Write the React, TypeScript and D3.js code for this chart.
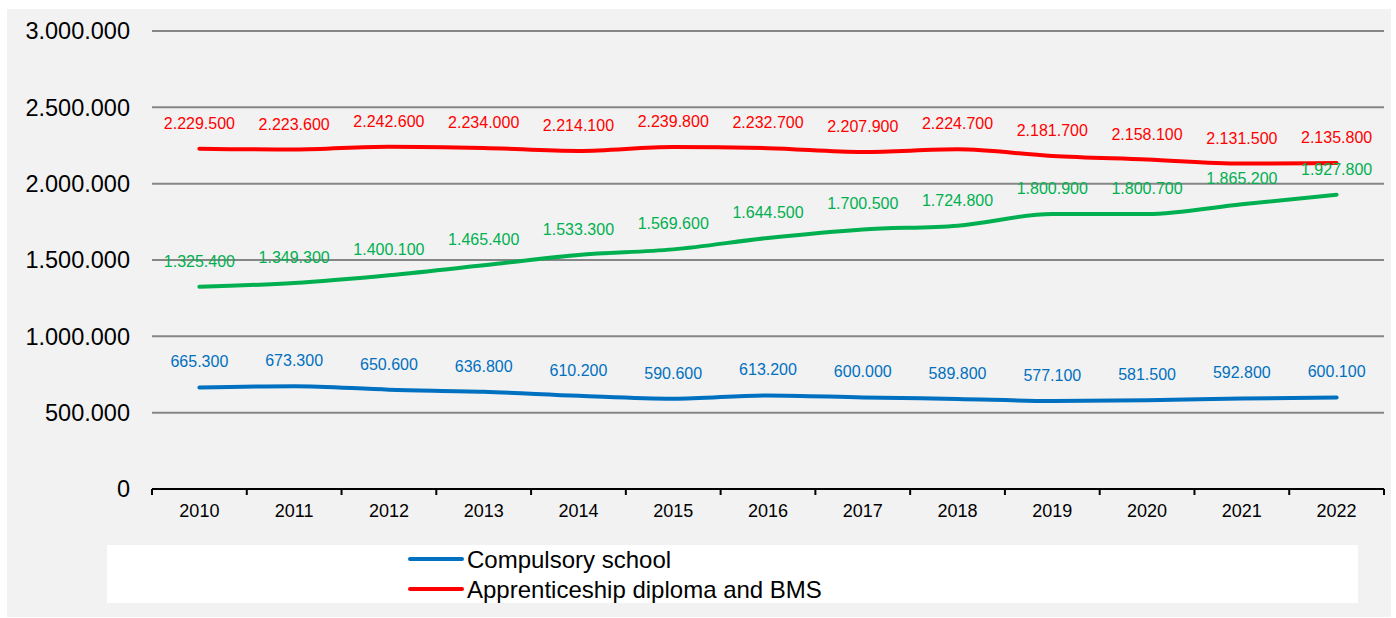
import React from "react";
import * as d3 from "d3";

const years = ["2010", "2011", "2012", "2013", "2014", "2015", "2016", "2017", "2018", "2019", "2020", "2021", "2022"];
const compulsory = [665300, 673300, 650600, 636800, 610200, 590600, 613200, 600000, 589800, 577100, 581500, 592800, 600100];
const apprenticeship = [2229500, 2223600, 2242600, 2234000, 2214100, 2239800, 2232700, 2207900, 2224700, 2181700, 2158100, 2131500, 2135800];
const tertiary = [1325400, 1349300, 1400100, 1465400, 1533300, 1569600, 1644500, 1700500, 1724800, 1800900, 1800700, 1865200, 1927800];
const yTicks = [0, 500000, 1000000, 1500000, 2000000, 2500000, 3000000];

const series = [
    { name: "Compulsory school", values: compulsory, color: "#0070c0", legend: true },
    { name: "Apprenticeship diploma and BMS", values: apprenticeship, color: "#ff0000", legend: true },
    { name: "Tertiary", values: tertiary, color: "#00b050", legend: false },
];

const locale = d3.formatLocale({ decimal: ",", thousands: ".", grouping: [3], currency: ["", ""] });
const fmt = locale.format(",d");

const W = 1396;
const H = 618;
const plot = { left: 152, right: 1384, top: 31, bottom: 489 };
const font = "Arial, 'Liberation Sans', sans-serif";

export default function App() {
    const x = d3.scaleBand<string>().domain(years).range([plot.left, plot.right]);
    const y = d3.scaleLinear().domain([0, 3000000]).range([plot.bottom, plot.top]);
    const cx = (i: number) => (x(years[i]) as number) + x.bandwidth() / 2;

    const line = d3
        .line<number>()
        .x((d, i) => cx(i))
        .y((d) => y(d))
        .curve(d3.curveMonotoneX);

    const boundaries = years.map((yr) => x(yr) as number).concat([plot.right]);
    const legendItems = series.filter((s) => s.legend);

    return (
        <div style={{ position: "absolute", left: 0, top: 0 }}>
            <svg width={W} height={H} style={{ display: "block" }} fontFamily={font}>
                <rect x={0} y={0} width={W} height={H} fill="#ffffff" />
                <rect x={7} y={9} width={1384} height={608} fill="#f2f2f2" />

                {/* gridlines + y labels */}
                {yTicks.map((t) => (
                    <g key={t}>
                        {t > 0 && (
                            <line x1={plot.left} x2={plot.right} y1={y(t)} y2={y(t)} stroke="#868686" strokeWidth={2} />
                        )}
                        <text x={130} y={y(t)} dy="0.36em" textAnchor="end" fontSize={23.5} fill="#000">
                            {fmt(t)}
                        </text>
                    </g>
                ))}

                {/* x axis */}
                <line x1={plot.left} x2={plot.right} y1={plot.bottom} y2={plot.bottom} stroke="#000" strokeWidth={2} />
                {boundaries.map((bx, i) => (
                    <line key={i} x1={bx} x2={bx} y1={plot.bottom} y2={plot.bottom + 6} stroke="#000" strokeWidth={2} />
                ))}
                {years.map((yr, i) => (
                    <text key={yr} x={cx(i)} y={plot.bottom + 28} textAnchor="middle" fontSize={18} fill="#000">
                        {yr}
                    </text>
                ))}

                {/* lines */}
                {series.map((s) => (
                    <path key={s.name} d={line(s.values) || ""} fill="none" stroke={s.color} strokeWidth={4} strokeLinecap="round" />
                ))}

                {/* data labels */}
                {series.map((s) =>
                    s.values.map((v, i) => (
                        <text key={s.name + i} x={cx(i)} y={y(v) - 20} textAnchor="middle" fontSize={16} fill={s.color}>
                            {fmt(v)}
                        </text>
                    ))
                )}

                {/* legend */}
                <rect x={107} y={545} width={1251} height={58} fill="#ffffff" />
                {legendItems.map((s, i) => (
                    <g key={s.name} transform={`translate(0, ${559 + i * 30})`}>
                        <line x1={410} x2={462} y1={0} y2={0} stroke={s.color} strokeWidth={4} strokeLinecap="round" />
                        <text x={467} y={0} dy="0.36em" fontSize={24} fill="#000">
                            {s.name}
                        </text>
                    </g>
                ))}
            </svg>
        </div>
    );
}
